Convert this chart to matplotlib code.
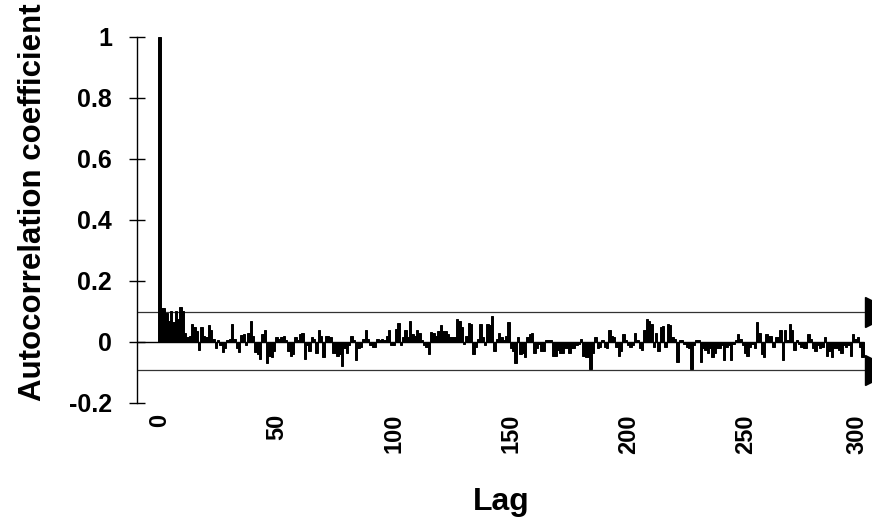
import numpy as np
import matplotlib
matplotlib.use("Agg")
import matplotlib.pyplot as plt
from matplotlib.transforms import ScaledTranslation

# ---- data ----
acf_000_049 = [1.0, 0.11, 0.11, 0.095, 0.07, 0.10, 0.065, 0.10, 0.075, 0.115,
               0.10, 0.03, 0.015, 0.02, 0.06, 0.05, 0.035, -0.027, 0.05, 0.02,
               0.015, 0.055, 0.04, 0.01, -0.02, 0.005, -0.01, -0.033, -0.02, 0.005,
               0.01, 0.06, 0.01, -0.02, -0.033, 0.022, 0.027, -0.01, 0.03, 0.068,
               0.02, -0.033, -0.04, -0.055, 0.027, 0.038, -0.069, -0.045, -0.05, -0.03]
acf_050_099 = [0.015, 0.01, 0.015, 0.02, 0.005, -0.03, -0.045, -0.04, 0.015, 0.005,
               0.027, 0.03, -0.055, -0.01, -0.03, 0.015, 0.01, -0.035, 0.04, 0.02,
               -0.05, 0.02, 0.02, 0.015, -0.035, -0.035, -0.045, -0.04, -0.08, -0.02,
               -0.035, -0.01, 0.02, 0.005, -0.06, -0.02, -0.015, 0.01, 0.04, 0.01,
               -0.01, -0.015, -0.015, 0.01, 0.005, 0.01, 0.005, 0.02, 0.04, -0.01]
acf_100_149 = [-0.01, 0.043, 0.063, -0.01, 0.015, 0.04, 0.015, 0.068, 0.025, 0.02,
               0.04, 0.03, 0.005, -0.01, -0.015, -0.04, 0.032, 0.03, 0.02, 0.035,
               0.055, 0.035, 0.035, 0.027, 0.015, 0.015, 0.015, 0.075, 0.07, 0.05,
               -0.005, 0.02, 0.063, 0.06, -0.04, -0.015, 0.01, 0.06, 0.015, -0.01,
               0.06, 0.055, 0.085, -0.03, 0.01, 0.03, 0.015, 0.005, 0.02, 0.065]
acf_150_199 = [-0.02, -0.03, -0.07, 0.015, -0.04, -0.035, -0.05, 0.015, 0.025, 0.028,
               -0.035, -0.02, -0.005, -0.03, -0.03, 0.007, 0.007, 0.005, -0.047, -0.045,
               -0.025, -0.035, -0.035, -0.02, -0.02, -0.035, -0.02, -0.02, -0.01, -0.005,
               0.01, -0.045, -0.05, -0.05, -0.09, -0.035, 0.018, -0.02, -0.015, 0.005,
               -0.015, -0.02, 0.04, 0.02, 0.015, -0.015, -0.045, -0.03, 0.025, 0.005]
acf_200_249 = [-0.01, -0.015, -0.01, 0.03, 0.005, -0.02, -0.025, 0.04, 0.075, 0.07,
               0.06, -0.015, 0.03, -0.03, 0.05, 0.054, -0.015, 0.06, 0.055, 0.015,
               0.01, -0.066, 0.008, 0.005, -0.005, -0.015, -0.02, -0.087, -0.01, 0.005,
               0.005, -0.066, -0.02, -0.025, -0.035, -0.02, -0.05, -0.035, -0.02, -0.02,
               -0.01, -0.06, -0.015, -0.01, -0.06, -0.005, 0.005, 0.027, 0.01, -0.01]
acf_250_300 = [-0.035, -0.045, -0.015, -0.005, -0.02, 0.065, 0.03, -0.04, -0.05, 0.025,
               0.02, 0.02, -0.015, 0.015, 0.015, 0.04, -0.06, 0.038, 0.005, 0.058,
               0.04, -0.025, 0.005, -0.005, -0.015, -0.02, -0.02, 0.025, 0.01, -0.02,
               -0.03, -0.01, -0.02, -0.015, 0.015, -0.045, -0.03, -0.05, -0.02, -0.02,
               -0.025, -0.035, -0.01, -0.015, -0.01, -0.045, 0.025, 0.01, 0.015, -0.015,
               -0.05]
acf = acf_000_049 + acf_050_099 + acf_100_149 + acf_150_199 + acf_200_249 + acf_250_300
lags = np.arange(len(acf))

upper_ci = 0.098
lower_ci = -0.091

ytick_vals = [-0.2, 0, 0.2, 0.4, 0.6, 0.8, 1]
ytick_labels = ["-0.2", "0", "0.2", "0.4", "0.6", "0.8", "1"]
xtick_vals = [0, 50, 100, 150, 200, 250, 300]
xtick_labels = ["0", "50", "100", "150", "200", "250", "300"]

# ---- figure ----
plt.rcParams['font.family'] = ['Liberation Sans', 'DejaVu Sans']
fig = plt.figure(figsize=(8.72, 5.21), dpi=100)
ax = fig.add_axes([0.1571, 0.2265, 0.836, 0.7025])

xmin, xmax = -9.6, 301.5
ax.set_xlim(xmin, xmax)
ax.set_ylim(-0.2, 1.0)

ax.bar(lags, acf, width=1.0, color='black', edgecolor='black', linewidth=0.7, zorder=3)

last = lags[-1] + 0.5
ax.hlines(0, xmin, last, color='black', lw=1.0, zorder=2)
ax.hlines([upper_ci, lower_ci], xmin, xmax, color='#333333', lw=0.9, zorder=2)
ax.plot([307.5, 307.5], [upper_ci, lower_ci], ls='none', marker='>', ms=21.6,
        color='black', clip_on=False, zorder=4)

for s in ['top', 'right', 'bottom']:
    ax.spines[s].set_visible(False)
ax.spines['left'].set_linewidth(1.0)

ax.set_yticks(ytick_vals)
ax.set_yticklabels(ytick_labels, fontsize=18, fontweight='bold')
ax.tick_params(axis='y', direction='inout', length=12, width=1.0, pad=12)

ax.set_xticks(xtick_vals)
ax.set_xticklabels(xtick_labels, fontsize=17, fontweight='bold', rotation=90)
ax.tick_params(axis='x', length=0, pad=8)
# nudge the last label left so it stays inside the figure, as in the reference
lbl = ax.get_xticklabels()[-1]
lbl.set_transform(lbl.get_transform() + ScaledTranslation(-4 / 72, 0, fig.dpi_scale_trans))

ax.set_xlabel("Lag", fontsize=23, fontweight='bold', labelpad=24)
ax.set_ylabel("Autocorrelation coefficient", fontsize=22.5, fontweight='bold',
              va='center')
ax.yaxis.set_label_coords(-0.142, 0.549)

fig.savefig("out.png", dpi=100)
